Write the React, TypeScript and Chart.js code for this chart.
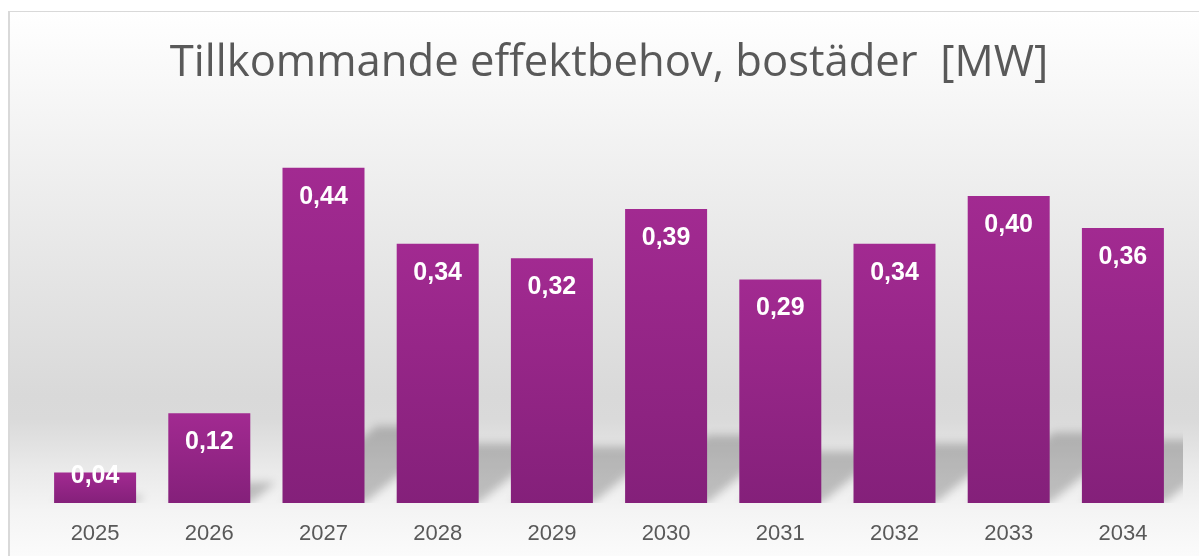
import React, { useEffect, useRef } from "react";
import { Chart, registerables } from "chart.js";

Chart.register(...registerables);

const categories = ["2025", "2026", "2027", "2028", "2029", "2030", "2031", "2032", "2033", "2034"];
const values = [0.04, 0.118, 0.441, 0.341, 0.322, 0.387, 0.294, 0.341, 0.404, 0.362];
const titleText = "Tillkommande effektbehov, bostäder  [MW]";
const yMax = 0.5;

const fmt = (v: number) => v.toFixed(2).replace(".", ",");

export default function App() {
  const ref = useRef<HTMLCanvasElement>(null);

  useEffect(() => {
    const canvas = ref.current;
    if (!canvas) return;

    const framePlugin = {
      id: "frame",
      beforeDraw(chart: any) {
        const ctx = chart.ctx;
        const W = chart.width;
        const H = chart.height;
        ctx.save();
        const g = ctx.createLinearGradient(0, 11, 0, H);
        g.addColorStop(0, "#ffffff");
        g.addColorStop(0.705, "#d9d9d9");
        g.addColorStop(0.75, "#dadada");
        g.addColorStop(0.842, "#eaeaea");
        g.addColorStop(0.916, "#f4f4f4");
        g.addColorStop(1, "#fbfbfb");
        ctx.fillStyle = g;
        ctx.fillRect(8, 11, W - 8, H - 11);
        ctx.fillStyle = "#d9d9d9";
        ctx.fillRect(8, 11, W - 8, 1);
        ctx.fillRect(8, 11, 2, H - 11);
        ctx.restore();
      },
    };

    const shadowPlugin = {
      id: "barShadow",
      beforeDatasetsDraw(chart: any) {
        const ctx = chart.ctx;
        const area = chart.chartArea;
        const meta = chart.getDatasetMeta(0);
        ctx.save();
        ctx.beginPath();
        ctx.rect(area.left, area.top - 50, area.right - area.left + 3, area.bottom - area.top + 50);
        ctx.clip();
        ctx.filter = "blur(4px)";
        ctx.fillStyle = "rgba(0,0,0,0.21)";
        ctx.beginPath();
        meta.data.forEach((el: any) => {
          const p = el.getProps(["x", "y", "base", "width"], true);
          const h = p.base - p.y;
          const L = p.x - p.width / 2;
          const R = p.x + p.width / 2;
          const dx = 0.28 * h;
          const dy = 0.23 * h;
          ctx.moveTo(L, p.base);
          ctx.lineTo(R, p.base);
          ctx.lineTo(R + dx, p.base - dy);
          ctx.lineTo(L + dx, p.base - dy);
          ctx.closePath();
        });
        ctx.fill();
        ctx.restore();
      },
    };

    const labelPlugin = {
      id: "barLabels",
      afterDatasetsDraw(chart: any) {
        const ctx = chart.ctx;
        const meta = chart.getDatasetMeta(0);
        ctx.save();
        ctx.fillStyle = "#ffffff";
        ctx.font = "bold 25px 'Liberation Sans', Arial, sans-serif";
        ctx.textAlign = "center";
        ctx.textBaseline = "middle";
        meta.data.forEach((el: any, i: number) => {
          const p = el.getProps(["x", "y", "base"], true);
          const cy = Math.min(p.y + 29, p.base - 27);
          ctx.fillText(fmt(values[i]), p.x, cy);
        });
        ctx.restore();
      },
    };

    const chart = new Chart(canvas, {
      type: "bar",
      data: {
        labels: categories,
        datasets: [
          {
            data: values,
            backgroundColor: (c: any) => {
              const ch = c.chart;
              const y = ch.scales && ch.scales.y;
              if (c.type !== "data" || !y || !c.parsed) return "#952585";
              const top = y.getPixelForValue(c.parsed.y);
              const base = y.getPixelForValue(0);
              if (!isFinite(top) || !isFinite(base) || top === base) return "#952585";
              const g = ch.ctx.createLinearGradient(0, top, 0, base);
              g.addColorStop(0, "#a22a91");
              g.addColorStop(1, "#84207a");
              return g;
            },
            borderWidth: 0,
            barPercentage: 0.718,
            categoryPercentage: 1,
          },
        ],
      },
      options: {
        responsive: false,
        animation: false,
        layout: { padding: { left: 38, right: 19, top: 0, bottom: -9.4 } },
        plugins: {
          legend: { display: false },
          tooltip: { enabled: false },
          title: {
            display: true,
            text: titleText,
            color: "#595959",
            font: { family: "'Open Sans', sans-serif", size: 43.6, weight: "normal" },
            padding: { top: 37, bottom: 33.7 },
          },
        },
        scales: {
          x: {
            grid: { display: false, drawTicks: false },
            border: { display: false },
            ticks: {
              color: "#595959",
              font: { family: "'Liberation Sans', Arial, sans-serif", size: 22 },
              padding: 18,
            },
          },
          y: { display: false, min: 0, max: yMax },
        },
      },
      plugins: [framePlugin, shadowPlugin, labelPlugin],
    });

    return () => chart.destroy();
  }, []);

  return (
    <div style={{ position: "absolute", left: 0, top: 0, width: 1199, height: 556 }}>
      <canvas ref={ref} width={1199} height={556} style={{ display: "block" }} />
    </div>
  );
}
